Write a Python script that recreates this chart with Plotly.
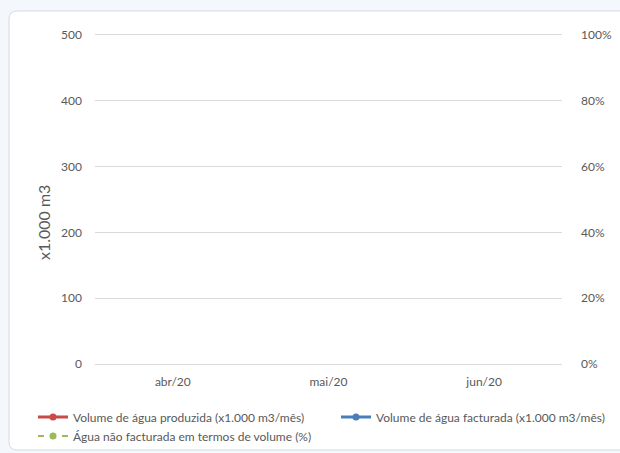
import plotly.graph_objects as go

# Monthly water balance (no readings recorded yet for the quarter)
months = ["abr/20", "mai/20", "jun/20"]
produced = [None, None, None]      # x1.000 m3/mês
billed = [None, None, None]        # x1.000 m3/mês
non_revenue = [None, None, None]   # fraction of produced volume

y_ticks = [0, 100, 200, 300, 400, 500]
pct_ticks = [0, 0.2, 0.4, 0.6, 0.8, 1.0]

FONT = "Lato, Carlito, 'Liberation Sans', sans-serif"
TXT = "#595959"
GRID = "#d9d9d9"

# plot area in pixels (for the card outline drawn in paper units)
W, H = 620, 453
L, R, T, B = 95, 58, 35, 89
PW, PH = W - L - R, H - T - B


def px(x):
    return (x - L) / PW


def py(y):
    return (H - B - y) / PH


fig = go.Figure()
fig.add_trace(go.Scatter(
    x=months, y=produced, name="Volume de água produzida (x1.000 m3/mês)",
    mode="lines+markers", line=dict(color="#c84b49", width=3),
    marker=dict(size=7, color="#c84b49"), legend="legend",
))
fig.add_trace(go.Scatter(
    x=months, y=billed, name="Volume de água facturada (x1.000 m3/mês)",
    mode="lines+markers", line=dict(color="#4a7ebb", width=3),
    marker=dict(size=7, color="#4a7ebb"), legend="legend2",
))
fig.add_trace(go.Scatter(
    x=months, y=non_revenue, name="Água não facturada em termos de volume (%)",
    mode="lines+markers", yaxis="y2",
    line=dict(color="#9bbb59", width=2, dash="6px,18px"),
    marker=dict(size=7, color="#9bbb59"), legend="legend",
))

# rounded white card behind the chart
lft, rgt, top, bot = px(9), px(632), py(11), py(450)
rx, ry = 8 / PW, 8 / PH
card = (f"M {lft+rx},{top} L {rgt},{top} L {rgt},{bot} L {lft+rx},{bot} "
        f"Q {lft},{bot} {lft},{bot+ry} L {lft},{top-ry} Q {lft},{top} {lft+rx},{top} Z")

legend_style = dict(
    orientation="v", xref="container", yref="container",
    xanchor="left", yanchor="top", y=(H - 402.5) / H,
    font=dict(size=12, color=TXT), bgcolor="rgba(0,0,0,0)",
    tracegroupgap=0, traceorder="normal",
)

fig.update_layout(
    width=W, height=H,
    margin=dict(l=L, r=R, t=T, b=B, pad=0, autoexpand=False),
    paper_bgcolor="#f4f8fc",
    plot_bgcolor="rgba(0,0,0,0)",
    font=dict(family=FONT, size=12, color=TXT),
    shapes=[dict(type="path", path=card, xref="paper", yref="paper",
                 fillcolor="white", line=dict(color="#d6d9dd", width=1),
                 layer="below")],
    xaxis=dict(
        type="category", categoryorder="array", categoryarray=months,
        range=[-0.5, 2.5], showgrid=False, zeroline=False,
        showline=True, mirror=True, linecolor=GRID, linewidth=1,
        ticks="", tickfont=dict(size=12, color=TXT), ticklabelstandoff=7,
        fixedrange=True,
    ),
    yaxis=dict(
        range=[0, 500], tickvals=y_ticks, showgrid=True, gridcolor=GRID,
        gridwidth=1, zeroline=False, showline=False, ticks="",
        ticklabelstandoff=12, tickfont=dict(size=12, color=TXT),
    ),
    yaxis2=dict(
        range=[0, 1], tickvals=pct_ticks, tickformat=".0%", overlaying="y",
        side="right", showgrid=False, zeroline=False, showline=False,
        ticks="", ticklabelstandoff=18, tickfont=dict(size=12, color=TXT),
    ),
    legend=dict(legend_style, x=33 / W),
    legend2=dict(legend_style, x=336 / W),
    annotations=[dict(
        text="x1.000 m3", textangle=-90, xref="paper", yref="paper",
        x=px(43), y=py(223), xanchor="center", yanchor="middle",
        showarrow=False, font=dict(size=16, color=TXT),
    )],
)

fig.write_html("out.html")
